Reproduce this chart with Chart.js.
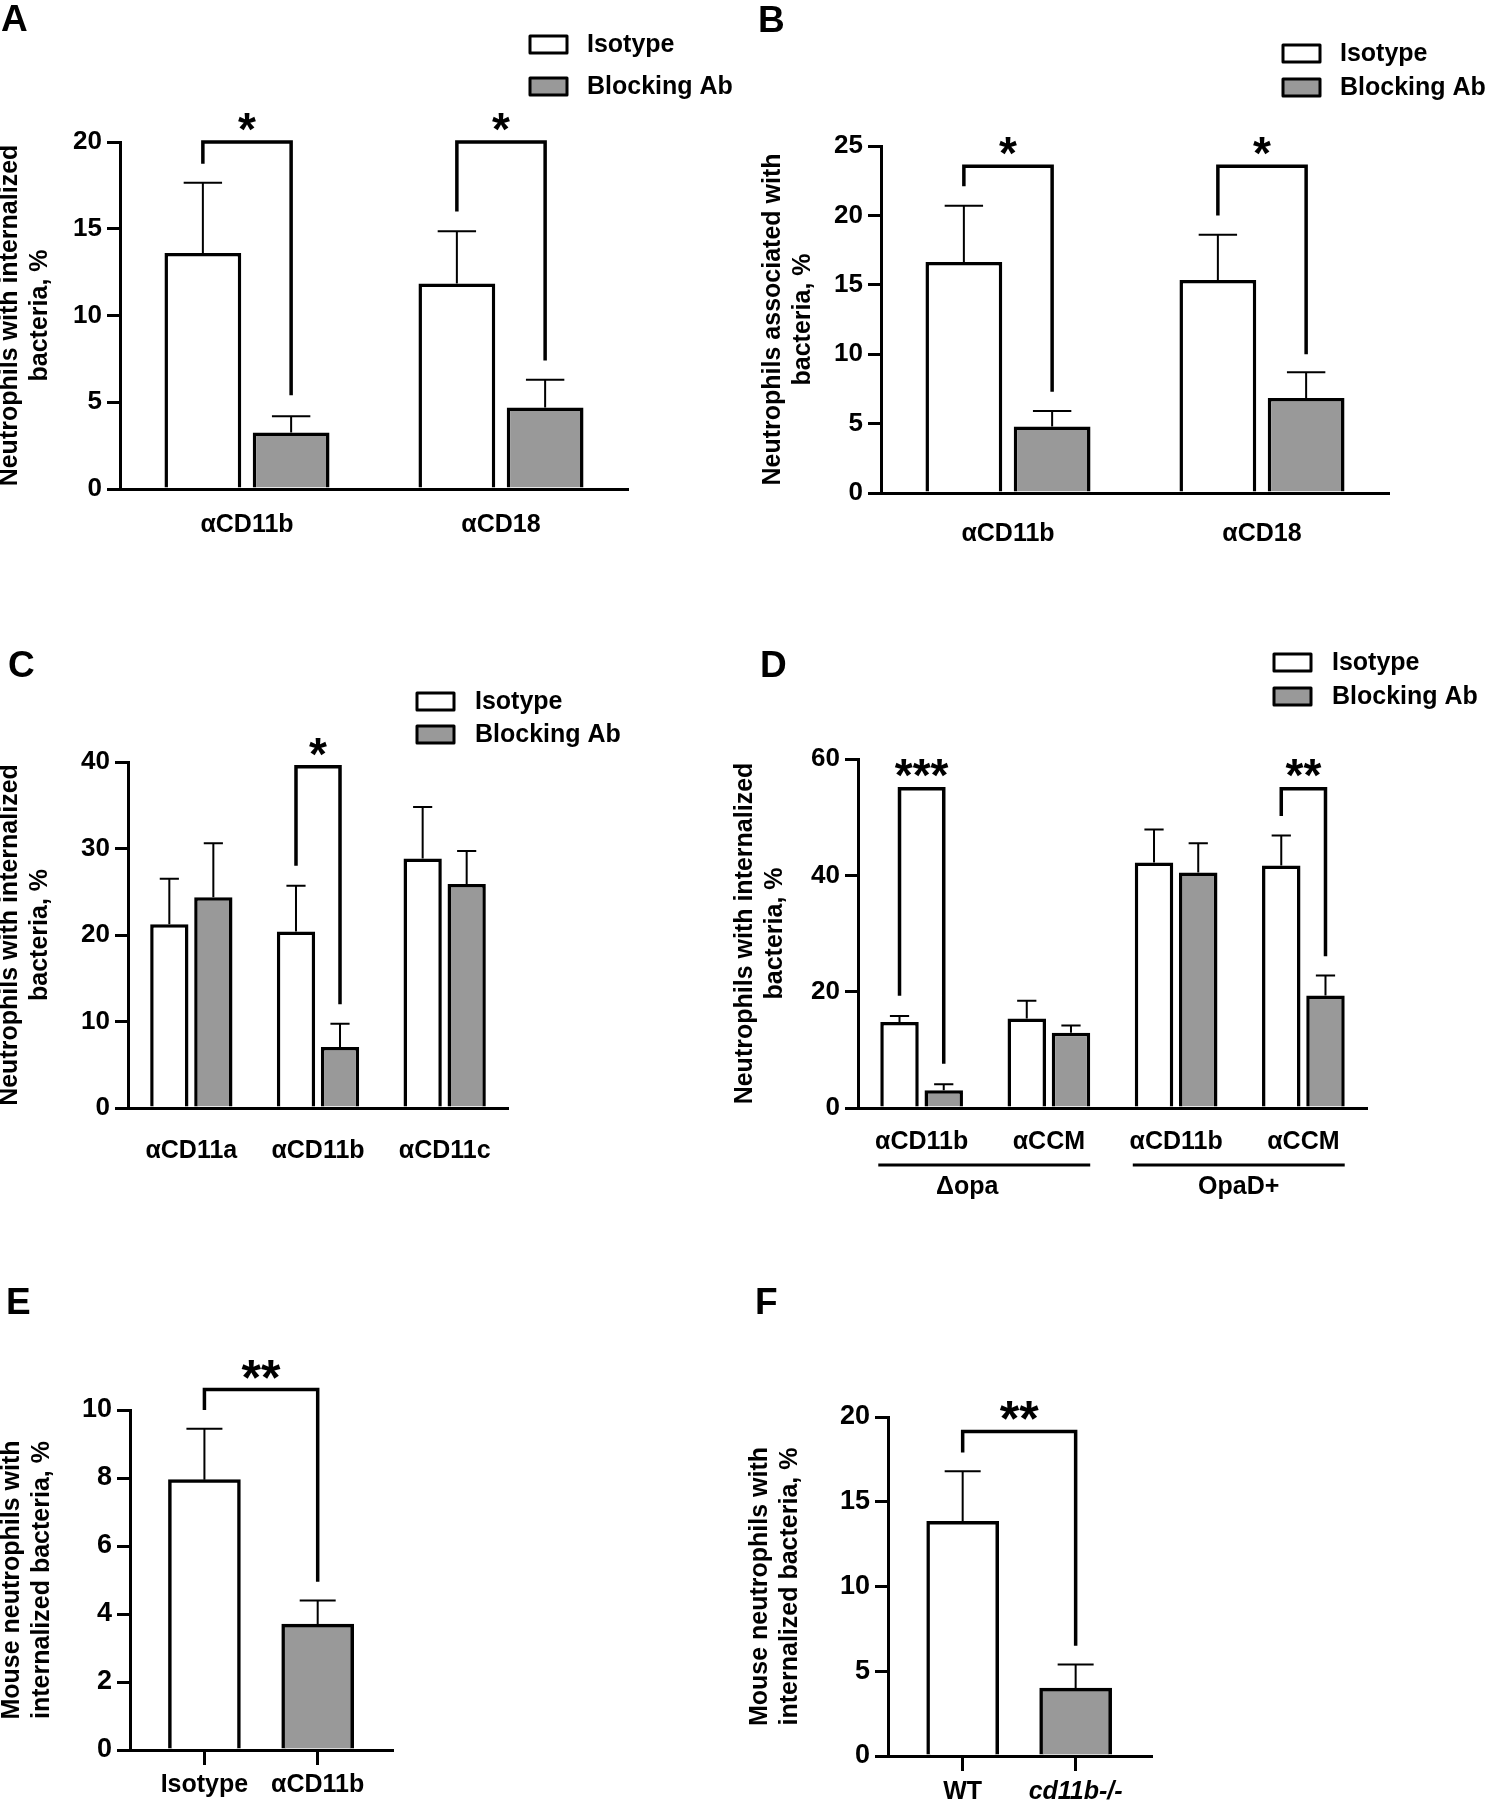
<!DOCTYPE html>
<html>
<head>
<meta charset="utf-8">
<script src="https://cdn.jsdelivr.net/npm/chart.js@4.4.1/dist/chart.umd.min.js"></script>
<style>
  html, body { margin: 0; padding: 0; background: #fff; }
  body { width: 1485px; height: 1800px; position: relative; overflow: hidden; }
  canvas { position: absolute; }
</style>
</head>
<body>
<canvas id="cA"></canvas>
<canvas id="cB"></canvas>
<canvas id="cC"></canvas>
<canvas id="cD"></canvas>
<canvas id="cE"></canvas>
<canvas id="cF"></canvas>
<script>
// ── Series names and fills ──
const seriesNames = ['Isotype', 'Blocking Ab'];
const WHITE = '#ffffff', GREY = '#999999';
const FONT = "'Liberation Sans', Arial, sans-serif";

// ── Panel A: neutrophils with internalized bacteria ──
const catsA = ['αCD11b', 'αCD18'];
const isoA = [13.6, 11.85];
const isoErrA = [4.05, 3.0];
const blockA = [3.25, 4.7];
const blockErrA = [0.95, 1.6];
// [left bar, right bar, top, left leg end, right leg end, label]
const sigA = [[[0, 0], [1, 0], 20, 18.75, 5.4, '*'], [[0, 1], [1, 1], 20, 16.0, 7.4, '*']];

// ── Panel B: neutrophils associated with bacteria ──
const catsB = ['αCD11b', 'αCD18'];
const isoB = [16.65, 15.35];
const isoErrB = [4.05, 3.25];
const blockB = [4.8, 6.85];
const blockErrB = [1.1, 1.85];
const sigB = [[[0, 0], [1, 0], 23.55, 22.1, 7.3, '*'], [[0, 1], [1, 1], 23.55, 20.0, 10.0, '*']];

// ── Panel C ──
const catsC = ['αCD11a', 'αCD11b', 'αCD11c'];
const isoC = [21.25, 20.4, 28.85];
const isoErrC = [5.25, 5.3, 5.95];
const blockC = [24.35, 7.05, 25.9];
const blockErrC = [6.25, 2.7, 3.8];
const sigC = [[[0, 1], [1, 1], 39.45, 28.0, 12.0, '*']];

// ── Panel D ──
const catsD = ['αCD11b', 'αCCM', 'αCD11b', 'αCCM'];
const isoD = [14.8, 15.4, 42.2, 41.7];
const isoErrD = [1.0, 3.05, 5.7, 5.15];
const blockD = [3.05, 12.95, 40.5, 19.35];
const blockErrD = [1.05, 1.25, 5.0, 3.45];
const sigD = [[[0, 0], [1, 0], 54.9, 19.3, 7.6, '***'], [[0, 3], [1, 3], 54.9, 50.2, 26.1, '**']];
const groupsD = [['Δopa', 0, 1], ['OpaD+', 2, 3]];

// ── Panel E: mouse neutrophils, antibody ──
const catsE = ['Isotype', 'αCD11b'];
const valsE = [7.95, 3.7];
const errE = [1.5, 0.7];
const sigE = [[[0, 0], [0, 1], 10.6, 10.0, 4.95, '**']];

// ── Panel F: mouse neutrophils, knockout ──
const catsF = ['WT', 'cd11b-/-'];
const italicF = [false, true];
const valsF = [13.85, 4.0];
const errF = [2.95, 1.4];
const sigF = [[[0, 0], [0, 1], 19.15, 17.9, 6.5, '**']];

const titleA = ['Neutrophils with internalized', 'bacteria, %'];
const titleB = ['Neutrophils associated with', 'bacteria, %'];
const titleMouse = ['Mouse neutrophils with', 'internalized bacteria, %'];

Chart.defaults.font.family = FONT;
Chart.defaults.font.weight = 'bold';
Chart.defaults.color = '#000';

// ── Extras: error bars, brackets, legend, panel letter, group lines ──
function extras(spec) {
  return {
    id: 'extras',
    afterDraw(chart) {
      const ctx = chart.ctx;
      const [bl, bt] = spec.box;
      const y = chart.scales.y;
      ctx.save();
      ctx.strokeStyle = '#000';
      ctx.fillStyle = '#000';

      // error bars (upper only)
      chart.data.datasets.forEach((ds, di) => {
        const meta = chart.getDatasetMeta(di);
        meta.data.forEach((bar, i) => {
          const top = y.getPixelForValue(ds.means[i] + ds.errs[i]);
          const half = bar.width * 0.25;
          ctx.lineWidth = 2;
          ctx.beginPath();
          ctx.moveTo(bar.x, bar.y);
          ctx.lineTo(bar.x, top);
          ctx.moveTo(bar.x - half, top);
          ctx.lineTo(bar.x + half, top);
          ctx.stroke();
        });
      });

      // significance brackets
      spec.sig.forEach(([a, b, top, endA, endB, label]) => {
        const xa = chart.getDatasetMeta(a[0]).data[a[1]].x;
        const xb = chart.getDatasetMeta(b[0]).data[b[1]].x;
        const yt = y.getPixelForValue(top);
        ctx.lineWidth = 3.5;
        ctx.lineJoin = 'miter';
        ctx.beginPath();
        ctx.moveTo(xa, y.getPixelForValue(endA));
        ctx.lineTo(xa, yt);
        ctx.lineTo(xb, yt);
        ctx.lineTo(xb, y.getPixelForValue(endB));
        ctx.stroke();
        ctx.font = `bold ${spec.starSize}px ${FONT}`;
        ctx.textAlign = 'center';
        ctx.textBaseline = 'alphabetic';
        ctx.fillText(label, (xa + xb) / 2, yt - 23 + spec.starSize * 0.56);
      });

      // group lines under the x labels
      (spec.groups || []).forEach(([label, c0, c1, dx]) => {
        const b0 = chart.getDatasetMeta(0).data[c0];
        const b1 = chart.getDatasetMeta(1).data[c1];
        const x0 = b0.x - b0.width / 2 - 2, x1 = b1.x + b1.width / 2;
        const yl = chart.chartArea.bottom + 57;
        ctx.lineWidth = 3;
        ctx.beginPath();
        ctx.moveTo(x0, yl);
        ctx.lineTo(x1, yl);
        ctx.stroke();
        ctx.font = `bold 25px ${FONT}`;
        ctx.textAlign = 'center';
        ctx.textBaseline = 'middle';
        ctx.fillText(label, (x0 + x1) / 2 + (dx || 0), yl + 22);
      });

      // legend
      if (spec.legend) {
        const [lx, ly, gap, tx] = spec.legend;
        chart.data.datasets.forEach((ds, k) => {
          const yy = ly + k * gap - bt;
          ctx.fillStyle = ds.backgroundColor;
          ctx.fillRect(lx - bl, yy, 37, 17);
          ctx.lineWidth = 3;
          ctx.lineJoin = 'round';
          ctx.strokeRect(lx - bl, yy, 37, 17);
          ctx.fillStyle = '#000';
          ctx.font = `bold 25px ${FONT}`;
          ctx.textAlign = 'left';
          ctx.textBaseline = 'middle';
          ctx.fillText(ds.label, tx - bl, yy + 9);
        });
      }

      // panel letter
      const [ch, cx, cy] = spec.letter;
      ctx.fillStyle = '#000';
      ctx.font = `bold 37px ${FONT}`;
      ctx.textAlign = 'left';
      ctx.textBaseline = 'alphabetic';
      ctx.fillText(ch, cx - bl, cy - bt);
      ctx.restore();
    }
  };
}

function yScale(spec) {
  const [bl] = spec.box;
  return {
    min: 0, max: spec.yMax,
    ticks: { stepSize: spec.yStep, font: { size: spec.tickSize || 26, weight: 'bold' }, padding: 5, color: '#000' },
    grid: { drawOnChartArea: false, color: '#000', lineWidth: 3, tickLength: 13 },
    border: { color: '#000', width: 3 },
    title: { display: true, text: spec.title, font: { size: 25, weight: 'bold' }, padding: 0, color: '#000' },
    afterFit: s => { s.width = spec.area[0] - bl; }
  };
}

function setup(id, spec) {
  const [bl, bt, bw, bh] = spec.box;
  const [al, at, ar, ab] = spec.area;
  const cv = document.getElementById(id);
  cv.width = bw; cv.height = bh;
  cv.style.left = bl + 'px'; cv.style.top = bt + 'px';
  return { cv, padding: { left: 0, top: at - bt, right: bl + bw - ar, bottom: 0 }, xh: bt + bh - ab };
}

// grouped panels A–D
function groupedPanel(id, spec) {
  const { cv, padding, xh } = setup(id, spec);
  const fills = [WHITE, GREY];
  new Chart(cv, {
    type: 'bar',
    data: {
      labels: spec.cats,
      datasets: spec.series.map((s, k) => ({
        label: seriesNames[k],
        data: s[0], means: s[0], errs: s[1],
        backgroundColor: fills[k], borderColor: '#000', borderWidth: 3.5,
        categoryPercentage: 0.695, barPercentage: 0.87
      }))
    },
    options: {
      responsive: false, animation: false,
      layout: { padding },
      plugins: { legend: { display: false }, tooltip: { enabled: false } },
      scales: {
        x: {
          grid: { display: false, drawTicks: false, tickLength: 0 },
          border: { color: '#000', width: 3 },
          ticks: { font: { size: 25, weight: 'bold' }, padding: spec.xPad, color: '#000', maxRotation: 0, autoSkip: false },
          afterFit: s => { s.height = xh; }
        },
        y: yScale(spec)
      }
    },
    plugins: [extras(spec)]
  });
}

// single-series panels E–F on a linear index axis
function pairPanel(id, spec) {
  const { cv, padding, xh } = setup(id, spec);
  new Chart(cv, {
    type: 'bar',
    data: {
      datasets: [{
        label: '',
        data: spec.vals.map((v, i) => ({ x: i, y: v })),
        means: spec.vals, errs: spec.errs,
        backgroundColor: [WHITE, GREY], borderColor: '#000', borderWidth: 3.5,
        barThickness: 72
      }]
    },
    options: {
      responsive: false, animation: false,
      layout: { padding },
      plugins: { legend: { display: false }, tooltip: { enabled: false } },
      scales: {
        x: {
          type: 'linear', min: spec.xRange[0], max: spec.xRange[1], offset: false,
          grid: { offset: false, drawOnChartArea: false, color: '#000', lineWidth: 3, tickLength: 15 },
          border: { color: '#000', width: 3 },
          ticks: {
            padding: spec.xPad, color: '#000',
            font: c => ({ size: 25, weight: 'bold', style: spec.italic && spec.italic[c.index] ? 'italic' : 'normal' }),
            callback: v => spec.cats[v] ?? ''
          },
          afterBuildTicks: s => { s.ticks = spec.cats.map((_, i) => ({ value: i })); },
          afterFit: s => { s.height = xh; }
        },
        y: yScale(spec)
      }
    },
    plugins: [extras(spec)]
  });
}

groupedPanel('cA', {
  box: [-5, 0, 740, 560], area: [120, 142, 628, 489],
  cats: catsA, series: [[isoA, isoErrA], [blockA, blockErrA]], sig: sigA,
  yMax: 20, yStep: 5, title: titleA, xPad: 21, starSize: 46,
  legend: [530, 36, 42, 587], letter: ['A', 1, 31]
});

groupedPanel('cB', {
  box: [758, 0, 727, 560], area: [881, 146, 1389, 493],
  cats: catsB, series: [[isoB, isoErrB], [blockB, blockErrB]], sig: sigB,
  yMax: 25, yStep: 5, title: titleB, xPad: 26, starSize: 46,
  legend: [1283, 45, 34, 1340], letter: ['B', 758, 32]
});

groupedPanel('cC', {
  box: [-5, 600, 740, 600], area: [128, 762, 508, 1108],
  cats: catsC, series: [[isoC, isoErrC], [blockC, blockErrC]], sig: sigC,
  yMax: 40, yStep: 10, title: titleA, xPad: 28, starSize: 46,
  legend: [417, 693, 33, 475], letter: ['C', 8, 677]
});

groupedPanel('cD', {
  box: [730, 600, 755, 620], area: [858, 759, 1367, 1108],
  cats: catsD, series: [[isoD, isoErrD], [blockD, blockErrD]], sig: sigD,
  groups: groupsD.map((g, i) => g.concat(i === 0 ? -17 : 0)),
  yMax: 60, yStep: 20, title: titleA, xPad: 19, starSize: 46,
  legend: [1274, 654, 34, 1332], letter: ['D', 760, 677]
});

pairPanel('cE', {
  box: [-3, 1250, 500, 550], area: [130, 1410, 392, 1750],
  cats: catsE, vals: valsE, errs: errE, sig: sigE, xRange: [-0.657, 1.656],
  yMax: 10, yStep: 2, title: titleMouse, xPad: 5, starSize: 50, tickSize: 27,
  letter: ['E', 6, 1314]
});

pairPanel('cF', {
  box: [745, 1250, 500, 550], area: [888, 1417, 1151, 1756],
  cats: catsF, italic: italicF, vals: valsF, errs: errF, sig: sigF, xRange: [-0.661, 1.667],
  yMax: 20, yStep: 5, title: titleMouse, xPad: 6, starSize: 50, tickSize: 27,
  letter: ['F', 755, 1314]
});
</script>
</body>
</html>
